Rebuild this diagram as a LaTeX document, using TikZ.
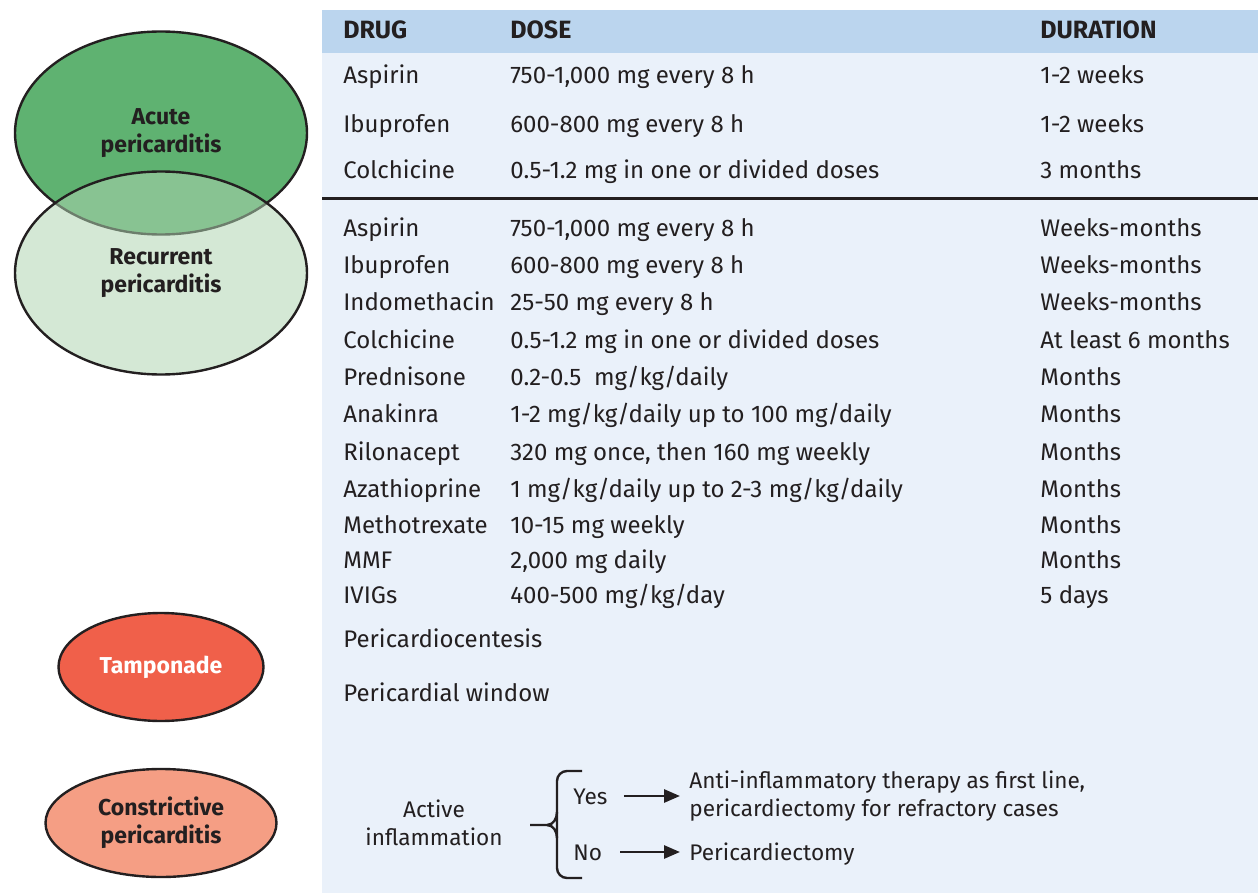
\documentclass[tikz,border=0pt]{standalone}
\usepackage{fontspec}
\setmainfont{Fira Sans}
\usetikzlibrary{shapes.geometric,arrows.meta}

\definecolor{ink}{HTML}{231F20}
\definecolor{headblue}{HTML}{BBD5EE}
\definecolor{bodyblue}{HTML}{EAF1FA}
\definecolor{acutegreen}{HTML}{5FB271}
\definecolor{recurgreen}{HTML}{AED3B0}
\definecolor{tampred}{HTML}{F0604A}
\definecolor{constrsalmon}{HTML}{F59E84}

\tikzset{
  cell/.style={anchor=west,inner sep=0pt,text height=8.3pt,text depth=0pt,text=ink},
  headcell/.style={cell,font=\fontsize{12.5}{14}\selectfont\bfseries},
  flowtxt/.style={cell,font=\fontsize{11.3}{14}\selectfont},
  blob/.style={ellipse,draw=ink,line width=1.2pt,inner sep=0pt,align=center,
    font=\fontsize{11.5}{14}\selectfont\bfseries,text=ink},
  arr/.style={-{Triangle[length=8pt,width=6.5pt]},line width=1.4pt,draw=ink}
}

\begin{document}
\begin{tikzpicture}[x=0.5pt,y=-0.5pt,font=\fontsize{12}{14}\selectfont]
    \useasboundingbox (0,0) rectangle (1258,893);

    % table background
    \fill[bodyblue](322,10) rectangle (1258,893);
    \fill[headblue](322,10) rectangle (1258,53);
    \draw[line width=1.5pt,ink](322,199)--(1258,199);

    % header
    \node[headcell](hdrug) at (343,30){DRUG};
    \node[headcell](hdose) at (510,30){DOSE};
    \node[headcell](hdur) at (1040,30){DURATION};

    % acute pericarditis
    \node[cell](acA) at (343,75){Aspirin};
    \node[cell](acAdose) at (510,75){750-1,000 mg every 8 h};
    \node[cell](acAdur) at (1040,75){1-2 weeks};
    \node[cell](acI) at (343,124){Ibuprofen};
    \node[cell](acIdose) at (510,124){600-800 mg every 8 h};
    \node[cell](acIdur) at (1040,124){1-2 weeks};
    \node[cell](acC) at (343,170){Colchicine};
    \node[cell](acCdose) at (510,170){0.5-1.2 mg in one or divided doses};
    \node[cell](acCdur) at (1040,170){3 months};

    % recurrent pericarditis
    \node[cell](reA) at (343,228){Aspirin};
    \node[cell](reAdose) at (510,228){750-1,000 mg every 8 h};
    \node[cell](reAdur) at (1040,228){Weeks-months};
    \node[cell](reI) at (343,265){Ibuprofen};
    \node[cell](reIdose) at (510,265){600-800 mg every 8 h};
    \node[cell](reIdur) at (1040,265){Weeks-months};
    \node[cell](reN) at (343,302){Indomethacin};
    \node[cell](reNdose) at (510,302){25-50 mg every 8 h};
    \node[cell](reNdur) at (1040,302){Weeks-months};
    \node[cell](reC) at (343,340){Colchicine};
    \node[cell](reCdose) at (510,340){0.5-1.2 mg in one or divided doses};
    \node[cell](reCdur) at (1040,340){At least 6 months};
    \node[cell](reP) at (343,377){Prednisone};
    \node[cell](rePdose) at (510,377){0.2-0.5\ \ mg/kg/daily};
    \node[cell](rePdur) at (1040,377){Months};
    \node[cell](reK) at (343,414){Anakinra};
    \node[cell](reKdose) at (510,414){1-2 mg/kg/daily up to 100 mg/daily};
    \node[cell](reKdur) at (1040,414){Months};
    \node[cell](reR) at (343,452){Rilonacept};
    \node[cell](reRdose) at (510,452){320 mg once, then 160 mg weekly};
    \node[cell](reRdur) at (1040,452){Months};
    \node[cell](reZ) at (343,489){Azathioprine};
    \node[cell](reZdose) at (510,489){1 mg/kg/daily up to 2-3 mg/kg/daily};
    \node[cell](reZdur) at (1040,489){Months};
    \node[cell](reM) at (343,525){Methotrexate};
    \node[cell](reMdose) at (510,525){10-15 mg weekly};
    \node[cell](reMdur) at (1040,525){Months};
    \node[cell](reF) at (343,560){MMF};
    \node[cell](reFdose) at (510,560){2,000 mg daily};
    \node[cell](reFdur) at (1040,560){Months};
    \node[cell](reV) at (343,595){IVIGs};
    \node[cell](reVdose) at (510,595){400-500 mg/kg/day};
    \node[cell](reVdur) at (1040,595){5 days};

    % tamponade
    \node[cell](tpC) at (343,639){Pericardiocentesis};
    \node[cell](tpW) at (343,693){Pericardial window};

    % constrictive pericarditis
    \node[align=center,inner sep=0pt,text=ink,font=\fontsize{11.3}{14}\selectfont](act) at (434,823){Active\\inflammation};
    \node[flowtxt](yes) at (573,796){Yes};
    \node[flowtxt](no) at (573,852){No};
    \node[anchor=west,align=left,inner sep=0pt,text=ink,font=\fontsize{11.3}{14}\selectfont](anti) at (689,796){Anti-inflammatory therapy as first line,\\pericardiectomy for refractory cases};
    \node[flowtxt](peri) at (689,852){Pericardiectomy};
    \coordinate (brtop) at (582,771);
    \coordinate (brbot) at (582,878);
    \coordinate (brtip) at (530,825);
    \draw[line width=1.2pt,ink,rounded corners=5pt](brtop)-|(557,812)--(557,838)|-(brbot);
    \draw[line width=1.2pt,ink](557,812) to[out=-90,in=0] (547,825)--(brtip);
    \draw[line width=1.2pt,ink](557,838) to[out=90,in=0] (547,825);
    \draw[arr,shorten <=8pt,shorten >=4.5pt](yes.east)--(anti.west|-yes);
    \draw[arr,shorten <=9pt,shorten >=4.5pt](no.east)--(peri.west);

    % left ellipses
    \node[blob,fill=acutegreen,minimum width=146pt,minimum height=101.5pt](acute) at (161,133){Acute\\pericarditis};
    \node[blob,fill=recurgreen,fill opacity=0.53,text opacity=1,minimum width=146pt,minimum height=101.5pt](recur) at (161,273){};
    \node[blob,draw=none](recurtxt) at (161,273){Recurrent\\pericarditis};
    \node[blob,fill=tampred,text=white,minimum width=102.5pt,minimum height=54pt](tamp) at (161,667){Tamponade};
    \node[blob,fill=constrsalmon,minimum width=115.5pt,minimum height=54pt](constr) at (161,823){Constrictive\\pericarditis};
\end{tikzpicture}
\end{document}
